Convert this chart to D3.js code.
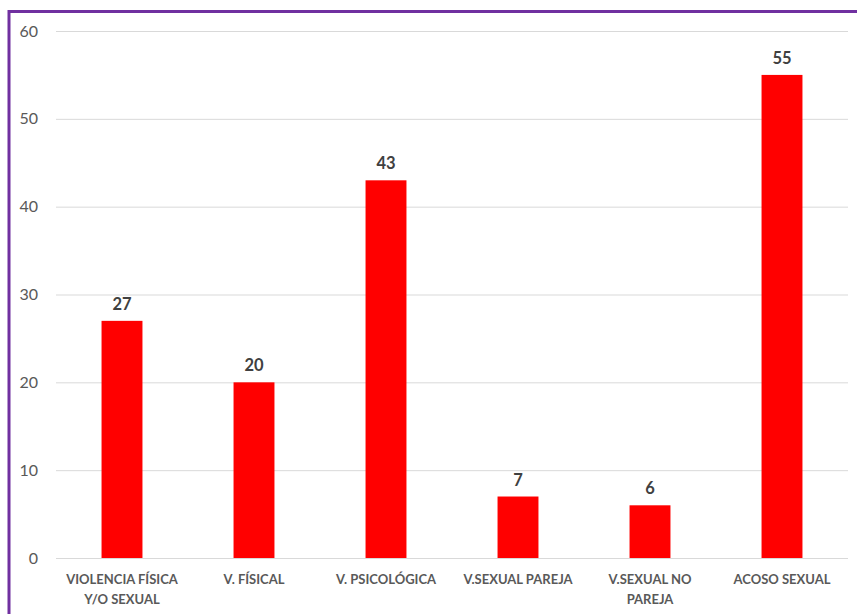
<!DOCTYPE html>
<html>
<head>
<meta charset="utf-8">
<script src="https://cdn.jsdelivr.net/npm/d3@7"></script>
<style>
  html, body { margin: 0; padding: 0; background: #fff; }
  svg { display: block; }
</style>
</head>
<body>
<svg id="chart" width="857" height="614"></svg>
<script>
// Categories (each entry is the lines of the axis label) and values
const categories = [
  ["VIOLENCIA FÍSICA", "Y/O SEXUAL"],
  ["V. FÍSICAL"],
  ["V. PSICOLÓGICA"],
  ["V.SEXUAL PAREJA"],
  ["V.SEXUAL NO", "PAREJA"],
  ["ACOSO SEXUAL"]
];
const values = [27, 20, 43, 7, 6, 55];
const yTicks = [0, 10, 20, 30, 40, 50, 60];

const svg = d3.select("#chart");
const W = 857, H = 614;
const margin = { left: 56, right: 9, top: 31, bottom: 56 };

const x = d3.scaleBand()
  .domain(d3.range(categories.length))
  .range([margin.left, W - margin.right])
  .paddingInner(0.69)
  .paddingOuter(0.345);

const y = d3.scaleLinear()
  .domain([0, 60])
  .range([H - margin.bottom, margin.top]);

// Frame around the chart area (top and left edges visible)
svg.append("line").attr("x1", 8).attr("x2", W).attr("y1", 11.5).attr("y2", 11.5)
  .attr("stroke", "#7030A0").attr("stroke-width", 3);
svg.append("line").attr("x1", 9).attr("x2", 9).attr("y1", 10).attr("y2", H)
  .attr("stroke", "#7030A0").attr("stroke-width", 3);

// Horizontal gridlines
const yAxis = d3.axisLeft(y).tickValues(yTicks)
  .tickSize(-(W - margin.left - margin.right)).tickPadding(18);
const gy = svg.append("g").attr("transform", `translate(${margin.left},0)`).call(yAxis);
gy.select(".domain").remove();
gy.selectAll(".tick line").attr("stroke", "#d9d9d9").attr("stroke-width", 1);
gy.selectAll(".tick text")
  .attr("fill", "#595959")
  .style("font-family", "Lato, 'Open Sans', sans-serif")
  .style("font-size", "16px");

// Bars
svg.append("g").selectAll("rect")
  .data(values)
  .join("rect")
  .attr("x", (d, i) => x(i))
  .attr("width", x.bandwidth())
  .attr("y", d => y(d))
  .attr("height", d => y(0) - y(d))
  .attr("fill", "#FF0000");

// Value labels
svg.append("g").selectAll("text")
  .data(values)
  .join("text")
  .attr("x", (d, i) => x(i) + x.bandwidth() / 2)
  .attr("y", d => y(d) - 11)
  .attr("text-anchor", "middle")
  .attr("fill", "#404040")
  .style("font-family", "Lato, 'Open Sans', sans-serif")
  .style("font-weight", "bold")
  .style("font-size", "16.5px")
  .text(d => d);

// Category labels
const gx = svg.append("g");
categories.forEach((lines, i) => {
  const t = gx.append("text")
    .attr("x", x(i) + x.bandwidth() / 2)
    .attr("y", 584)
    .attr("text-anchor", "middle")
    .attr("fill", "#595959")
    .style("font-family", "Lato, 'Open Sans', sans-serif")
    .style("font-weight", "bold")
    .style("font-size", "13px");
  lines.forEach((ln, j) => {
    t.append("tspan").attr("x", x(i) + x.bandwidth() / 2)
      .attr("dy", j === 0 ? 0 : 20).text(ln);
  });
});
</script>
</body>
</html>
